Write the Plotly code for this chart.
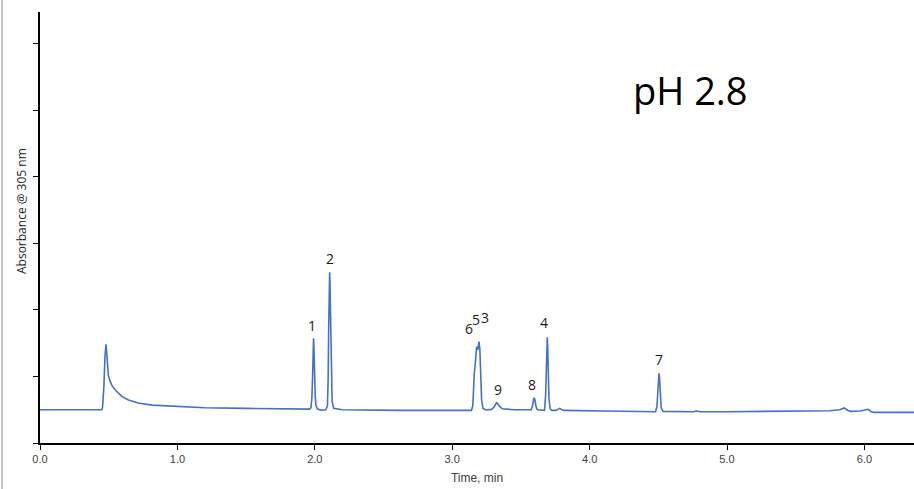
import plotly.graph_objects as go

# Chromatogram trace (time in min, absorbance in axis units)
time_min = [0.00, 0.45, 0.455, 0.465, 0.473, 0.480, 0.486, 0.491, 0.497, 0.510, 0.522, 0.546, 0.570, 0.595,
            0.640, 0.713, 0.815, 1.004, 1.20, 1.50, 1.80, 1.960, 1.972, 1.979, 1.984, 1.988, 1.991, 1.994,
            1.998, 2.003, 2.009, 2.020, 2.045, 2.080, 2.092, 2.097, 2.101, 2.105, 2.108, 2.111, 2.115,
            2.120, 2.126, 2.138, 2.20, 2.60, 3.00, 3.140, 3.150, 3.156, 3.161, 3.166, 3.171,
            3.178, 3.186, 3.195, 3.201, 3.207, 3.214, 3.224, 3.245, 3.287, 3.305, 3.318, 3.324, 3.332,
            3.345, 3.365, 3.450, 3.575, 3.585, 3.592, 3.596, 3.602, 3.610, 3.620, 3.672, 3.680, 3.685,
            3.689, 3.692, 3.695, 3.699, 3.704, 3.712, 3.725, 3.755, 3.772, 3.782, 3.795, 3.815,
            4.10, 4.480, 4.490, 4.496, 4.501, 4.505, 4.509, 4.514, 4.521, 4.535, 4.76, 4.78, 4.80,
            5.00, 5.50, 5.75, 5.820, 5.854, 5.880, 5.900, 5.968, 6.010, 6.028, 6.050, 6.070, 6.20, 6.361]
absorbance = [0.50, 0.50, 0.53, 0.85, 1.30, 1.484, 1.35, 1.15, 1.02, 0.93, 0.87, 0.80, 0.75, 0.70,
              0.65, 0.60, 0.57, 0.546, 0.53, 0.52, 0.51, 0.51, 0.53, 0.68, 1.00, 1.38, 1.574, 1.42,
              1.02, 0.70, 0.56, 0.51, 0.495, 0.50, 0.56, 0.95, 1.70, 2.35, 2.567, 2.35, 1.65,
              0.95, 0.63, 0.52, 0.50, 0.49, 0.49, 0.49, 0.56, 0.90, 1.057, 1.15, 1.33,
              1.448, 1.40, 1.523, 1.42, 1.05, 0.65, 0.52, 0.496, 0.505, 0.54, 0.59, 0.606, 0.59,
              0.55, 0.515, 0.50, 0.50, 0.56, 0.65, 0.681, 0.65, 0.55, 0.50, 0.49, 0.72, 1.10,
              1.45, 1.589, 1.45, 1.05, 0.68, 0.52, 0.49, 0.49, 0.51, 0.52, 0.505, 0.49,
              0.48, 0.47, 0.55, 0.80, 0.98, 1.048, 0.98, 0.75, 0.53, 0.475, 0.47, 0.485, 0.47,
              0.47, 0.475, 0.485, 0.50, 0.526, 0.49, 0.476, 0.48, 0.495, 0.506, 0.47, 0.461, 0.461, 0.461]

# Peak labels
peak_labels = ["1", "2", "6", "5", "3", "9", "8", "4", "7"]
label_t = [1.98, 2.11, 3.120, 3.176, 3.236, 3.336, 3.583, 3.670, 4.507]
label_A = [1.76, 2.78, 1.725, 1.860, 1.890, 0.797, 0.882, 1.809, 1.248]

x_ticks = [0, 1, 2, 3, 4, 5, 6]
x_tick_text = ["0.0", "1.0", "2.0", "3.0", "4.0", "5.0", "6.0"]
y_ticks = [0, 1, 2, 3, 4, 5, 6]

fig = go.Figure()
fig.add_trace(go.Scatter(x=time_min, y=absorbance, mode="lines",
                         line=dict(color="#4472C4", width=1.6), showlegend=False, hoverinfo="skip"))

for lab, t, a in zip(peak_labels, label_t, label_A):
    fig.add_annotation(x=t, y=a, text=lab, showarrow=False, xref="x", yref="y",
                       xanchor="center", yanchor="middle",
                       font=dict(family="Open Sans", size=14, color="#1a1a1a"))

fig.update_layout(
    width=914, height=489,
    margin=dict(l=40, r=0, t=12, b=46),
    paper_bgcolor="white", plot_bgcolor="white",
    xaxis=dict(range=[0, 6.361], tickvals=x_ticks, ticktext=x_tick_text, showgrid=False, zeroline=False,
               showline=True, linecolor="#000000", linewidth=1.5, ticks="outside", ticklen=5,
               tickcolor="#000000", tickfont=dict(family="Liberation Sans", size=11, color="#404040"),
               title=dict(text="Time, min", font=dict(family="Liberation Sans", size=12, color="#404040"),
                          standoff=10)),
    yaxis=dict(range=[0, 6.48], tickvals=y_ticks, showticklabels=False, showgrid=False, zeroline=False,
               showline=True, linecolor="#000000", linewidth=1.5, ticks="outside", ticklen=5,
               tickcolor="#000000"),
)

# Big title text
fig.add_annotation(x=(690 - 40) / 874, y=1 - (90 - 12) / 431, xref="paper", yref="paper", text="pH 2.8",
                   xanchor="center", yanchor="middle", showarrow=False,
                   font=dict(family="Open Sans", size=38, color="#000000"))

# Y-axis title as annotation
fig.add_annotation(x=(21 - 40) / 874, y=1 - (211 - 12) / 431, xref="paper", yref="paper",
                   xanchor="center", yanchor="middle",
                   text="Absorbance @ 305 nm", textangle=-90, showarrow=False,
                   font=dict(family="Open Sans", size=12, color="#262626"))

# Left border line of the chart frame
fig.add_shape(type="line", xref="paper", yref="paper", x0=(2 - 40) / 874, x1=(2 - 40) / 874,
              y0=-46 / 431, y1=1 + 12 / 431, line=dict(color="#8c8c8c", width=1))

fig.write_html("out.html")
